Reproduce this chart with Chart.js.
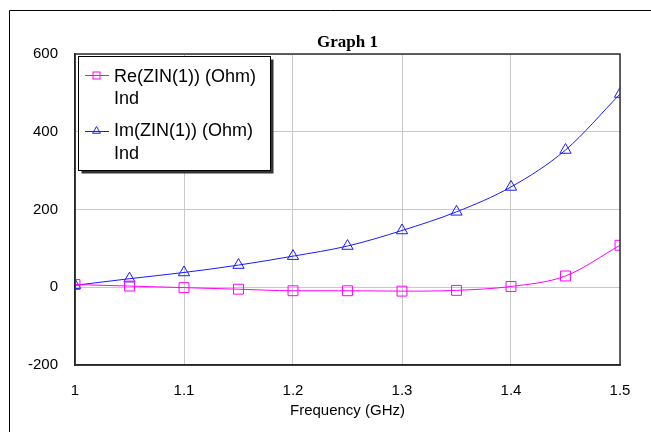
<!DOCTYPE html>
<html>
<head>
<meta charset="utf-8">
<script src="https://cdn.jsdelivr.net/npm/chart.js@4/dist/chart.umd.min.js"></script>
<style>
html,body{margin:0;padding:0;background:#fff;}
canvas{display:block;}
</style>
</head>
<body>
<canvas id="c" width="651" height="432"></canvas>
<script>
// ---- data ----
const freqGHz = [1.0, 1.05, 1.1, 1.15, 1.2, 1.25, 1.3, 1.35, 1.4, 1.45, 1.5];
const reZin = [7, 3, -1, -5, -9, -9, -10, -8, 2, 29, 108];
const imZin = [5, 22, 38, 57, 80, 106, 146, 194, 258, 353, 497];
const seriesNames = ['Re(ZIN(1)) (Ohm)', 'Im(ZIN(1)) (Ohm)'];
const seriesSub = ['Ind', 'Ind'];
const xTicks = [1, 1.1, 1.2, 1.3, 1.4, 1.5];
const yTicks = [-200, 0, 200, 400, 600];
const chartTitle = 'Graph 1';
const xTitle = 'Frequency (GHz)';

const RE_COLOR = '#ff00ff';
const IM_COLOR = '#1a1aff';
const SANS = '"Liberation Sans", Arial, sans-serif';

function pts(ys){ return freqGHz.map((f,i)=>({x:f, y:ys[i]})); }

function drawSquare(ctx, x, y, s, color){
  ctx.save(); ctx.strokeStyle = color; ctx.lineWidth = 1;
  ctx.strokeRect(x - s/2, y - s/2, s, s); ctx.restore();
}
function drawTri(ctx, x, y, r, color){
  ctx.save(); ctx.strokeStyle = color; ctx.lineWidth = 1;
  ctx.beginPath();
  for (let k=0;k<3;k++){
    const a = -Math.PI/2 + k*2*Math.PI/3;
    const px = x + Math.cos(a)*r, py = y + Math.sin(a)*r;
    if(k===0) ctx.moveTo(px,py); else ctx.lineTo(px,py);
  }
  ctx.closePath(); ctx.stroke(); ctx.restore();
}

const decor = {
  id: 'decor',
  beforeDraw(chart){
    const ctx = chart.ctx;
    ctx.save();
    ctx.fillStyle = '#fff';
    ctx.fillRect(0,0,chart.width,chart.height);
    ctx.strokeStyle = '#000'; ctx.lineWidth = 1;
    ctx.beginPath();
    ctx.moveTo(9.5, chart.height); ctx.lineTo(9.5, 10.5); ctx.lineTo(chart.width, 10.5);
    ctx.stroke();
    ctx.restore();
  },
  afterDraw(chart){
    const ctx = chart.ctx;
    const a = chart.chartArea;
    ctx.save();
    // plot frame
    ctx.strokeStyle = '#303030'; ctx.lineWidth = 1.5;
    ctx.strokeRect(a.left, a.top, a.right - a.left, a.bottom - a.top);
    // title
    ctx.fillStyle = '#000';
    ctx.font = 'bold 17px "Liberation Serif", "Times New Roman", serif';
    ctx.textAlign = 'center'; ctx.textBaseline = 'alphabetic';
    ctx.fillText(chartTitle, (a.left + a.right)/2, 47);
    // legend box with shadow
    const bx = 78.5, by = 56.5, bw = 192, bh = 114;
    ctx.fillStyle = '#333';
    ctx.fillRect(bx + 3, by + 3, bw, bh);
    ctx.fillStyle = '#fff';
    ctx.fillRect(bx, by, bw, bh);
    ctx.strokeStyle = '#000'; ctx.lineWidth = 1;
    ctx.strokeRect(bx, by, bw, bh);
    const items = [
      {y: 75, color: RE_COLOR, mark: 'sq', base1: 81.5, base2: 103.5},
      {y: 131, color: IM_COLOR, mark: 'tri', base1: 135.5, base2: 159}
    ];
    items.forEach((it, i) => {
      ctx.strokeStyle = it.color; ctx.lineWidth = 1;
      ctx.beginPath(); ctx.moveTo(85, it.y + 0.5); ctx.lineTo(109, it.y + 0.5); ctx.stroke();
      if (it.mark === 'sq') drawSquare(ctx, 96.5, it.y + 0.5, 7, it.color);
      else drawTri(ctx, 96.5, it.y, 4.5, it.color);
      ctx.fillStyle = '#000';
      ctx.font = '18px ' + SANS;
      ctx.textAlign = 'left'; ctx.textBaseline = 'alphabetic';
      ctx.fillText(seriesNames[i], 114, it.base1);
      ctx.fillText(seriesSub[i], 114, it.base2);
    });
    ctx.restore();
  }
};

new Chart(document.getElementById('c'), {
  type: 'line',
  data: {
    datasets: [
      {
        label: seriesNames[0],
        data: pts(reZin),
        borderColor: RE_COLOR, backgroundColor: 'rgba(0,0,0,0)',
        borderWidth: 1, pointStyle: 'rect', pointRadius: 7,
        pointBorderColor: RE_COLOR, pointBackgroundColor: 'rgba(0,0,0,0)',
        pointBorderWidth: 1, cubicInterpolationMode: 'monotone', fill: false
      },
      {
        label: seriesNames[1],
        data: pts(imZin),
        borderColor: IM_COLOR, backgroundColor: 'rgba(0,0,0,0)',
        borderWidth: 1, pointStyle: 'triangle', pointRadius: 6.5,
        pointBorderColor: IM_COLOR, pointBackgroundColor: 'rgba(0,0,0,0)',
        pointBorderWidth: 1, cubicInterpolationMode: 'monotone', fill: false
      }
    ]
  },
  options: {
    responsive: false,
    animation: false,
    devicePixelRatio: 1,
    layout: { padding: { left: 0, right: 31, top: 54, bottom: 0 } },
    plugins: { legend: { display: false }, title: { display: false }, tooltip: { enabled: false } },
    scales: {
      x: {
        type: 'linear', min: 1, max: 1.5,
        afterBuildTicks: s => { s.ticks = xTicks.map(v => ({value: v})); },
        afterFit: s => { s.height = 67; },
        grid: { color: '#c8c8c8', lineWidth: 1, drawTicks: false },
        border: { color: '#000', width: 1.5 },
        ticks: { padding: 17, color: '#000', font: { family: SANS, size: 15 },
                 callback: v => String(Number(v.toFixed(1))), maxRotation: 0 },
        title: { display: true, text: xTitle, color: '#000',
                 font: { family: SANS, size: 15 }, padding: { top: 0, bottom: 12 } }
      },
      y: {
        min: -200, max: 600,
        afterBuildTicks: s => { s.ticks = yTicks.map(v => ({value: v})); },
        afterFit: s => { s.width = 75; },
        grid: { color: '#c8c8c8', lineWidth: 1, drawTicks: false },
        border: { color: '#000', width: 1.5 },
        ticks: { padding: 17, color: '#000', font: { family: SANS, size: 15 } }
      }
    }
  },
  plugins: [decor]
});
</script>
</body>
</html>
